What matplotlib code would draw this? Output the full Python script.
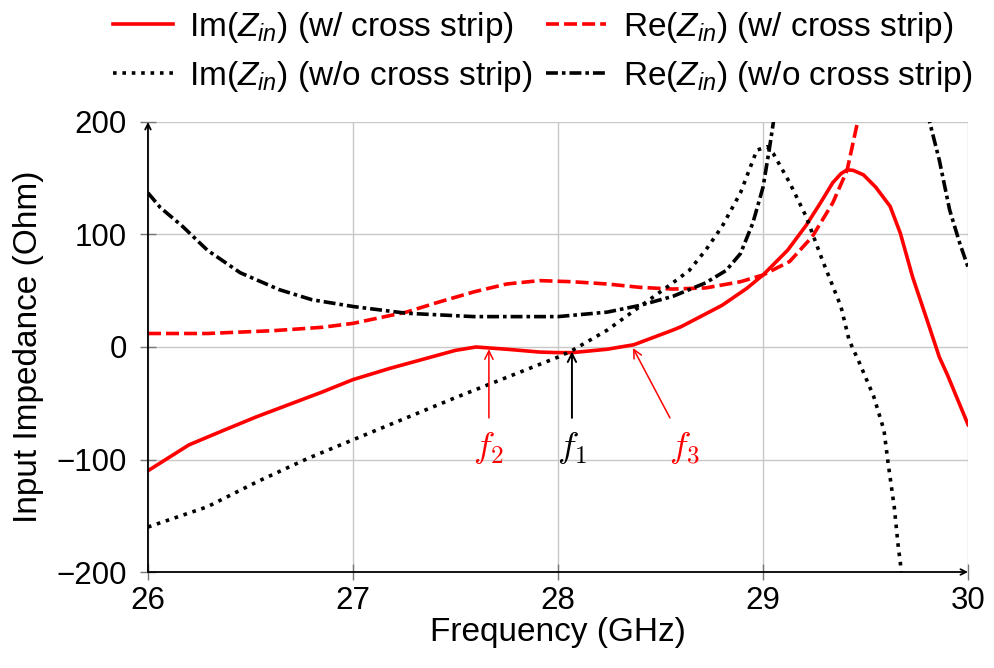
import numpy as np
import matplotlib.pyplot as plt

plt.rcParams['font.family'] = ['Liberation Sans', 'DejaVu Sans']
plt.rcParams['mathtext.fontset'] = 'custom'
plt.rcParams['mathtext.it'] = 'Liberation Sans:italic'
plt.rcParams['mathtext.rm'] = 'Liberation Sans'

# Im(Zin) with cross strip
f_im_w = [26.0, 26.2, 26.37, 26.53, 26.69, 26.85, 27.0, 27.18, 27.34, 27.5, 27.6,
          27.75, 27.91, 28.0, 28.07, 28.24, 28.37, 28.56, 28.6, 28.8, 28.92, 29.0,
          29.12, 29.21, 29.28, 29.34, 29.38, 29.41, 29.44, 29.49, 29.55, 29.62, 29.67,
          29.73, 29.8, 29.86, 29.9, 30.0]
im_w = [-110, -87, -74, -62, -51, -40, -29, -19, -11, -3, 0,
        -2, -4.5, -5, -5, -2, 2, 15, 18, 37, 52, 64,
        86, 108, 128, 146, 154, 157.5, 157, 153, 142, 125, 101,
        62, 24, -9, -25, -69]

# Re(Zin) with cross strip
f_re_w = [26.0, 26.29, 26.61, 26.85, 27.0, 27.13, 27.26, 27.42, 27.59, 27.75, 27.91,
          28.07, 28.24, 28.4, 28.56, 28.72, 28.89, 29.0, 29.13, 29.24, 29.34, 29.41,
          29.46, 29.5]
re_w = [12, 12, 14.5, 17.5, 21, 26, 31, 40, 49, 56, 59,
        58, 56, 53, 51.5, 52.5, 58, 64, 76, 98, 128, 157,
        199, 240]

# Im(Zin) without cross strip
f_im_wo = [26.0, 26.29, 26.53, 26.78, 27.02, 27.26, 27.5, 27.75, 28.0, 28.07, 28.24,
           28.4, 28.56, 28.64, 28.72, 28.8, 28.89, 28.97, 29.02, 29.05, 29.13,
           29.21, 29.29, 29.38, 29.42, 29.47, 29.54, 29.59, 29.61, 29.64, 29.66,
           29.67, 29.69]
im_wo = [-160, -142, -120, -99, -81, -63, -45, -27, -9, -3, 15,
         36, 57, 68, 86, 107, 137, 175, 178, 172, 146,
         116, 77, 36, 6, -14, -44, -74, -103, -142, -178,
         -192, -240]

# Re(Zin) without cross strip (off scale between ~29.05 and ~29.8)
f_re_wo = [26.0, 26.06, 26.17, 26.29, 26.45, 26.64, 26.8, 27.0, 27.26, 27.59, 28.0,
           28.24, 28.4, 28.56, 28.72, 28.82, 28.89, 28.95, 29.0, 29.03, 29.05,
           29.07, 29.4, 29.79, 29.81, 29.86, 29.91, 29.96, 30.0]
re_wo = [137, 124, 107, 86, 66, 51, 42, 36, 30, 27, 27,
         31, 37, 45, 57, 68, 83, 110, 142, 175, 199,
         240, np.nan, 230, 202, 166, 122, 92, 71]

fig = plt.figure(figsize=(9.95, 6.68), dpi=100)
ax = fig.add_axes([0.1487, 0.1437, 0.9729 - 0.1487, 0.8174 - 0.1437])

lw = 2.6
l1, = ax.plot(f_im_w, im_w, color='red', lw=lw)
l2, = ax.plot(f_re_w, re_w, color='red', lw=lw, linestyle=(0, (3.6, 1.4)))
l3, = ax.plot(f_im_wo, im_wo, color='black', lw=lw, linestyle=(0, (1, 1.6)))
l4, = ax.plot(f_re_wo, re_wo, color='black', lw=lw,
              linestyle=(0, (3.3, 1.1, 1, 1.1)))

ax.set_xlim(26, 30)
ax.set_ylim(-200, 200)
ax.set_xticks([26, 27, 28, 29, 30])
ax.set_yticks([-200, -100, 0, 100, 200])
ax.grid(True, color='#c8c8c8', lw=1.0)
ax.set_axisbelow(True)
for s in ax.spines.values():
    s.set_visible(False)
ax.tick_params(direction='inout', length=12, width=1, color='#777777',
               labelsize=22.5)
ax.tick_params(axis='x', pad=4)
ax.tick_params(axis='y', pad=9)

# axis lines with arrow heads
ax.annotate('', xy=(0, 1.0), xytext=(0, 0), xycoords='axes fraction',
            arrowprops=dict(arrowstyle='->', color='black', lw=1.3,
                            shrinkA=0, shrinkB=0))
ax.annotate('', xy=(1.0, 0), xytext=(0, 0), xycoords='axes fraction',
            arrowprops=dict(arrowstyle='->', color='black', lw=1.3,
                            shrinkA=0, shrinkB=0))

ax.set_xlabel('Frequency (GHz)', fontsize=24, labelpad=1)
ax.set_ylabel('Input Impedance (Ohm)', fontsize=24, labelpad=9)

# frequency markers
marks = [('$f_2$', 'red', (27.663, -2), (27.663, -63), (27.663, -90)),
         ('$f_1$', 'black', (28.068, -4), (28.068, -63), (28.068, -90)),
         ('$f_3$', 'red', (28.366, -1), (28.546, -63), (28.615, -90))]
for txt, c, tip, tail, pos in marks:
    ax.annotate('', xy=tip, xytext=tail,
                arrowprops=dict(arrowstyle='->,head_length=0.6,head_width=0.3',
                                color=c, lw=1.4 if c == 'black' else 1.1,
                                shrinkA=0, shrinkB=0))
    ax.text(pos[0], pos[1], txt, color=c, fontsize=26, ha='center', va='center',
            math_fontfamily='cm')

labels = [r'Im($Z_{in}$) (w/ cross strip)', r'Im($Z_{in}$) (w/o cross strip)',
          r'Re($Z_{in}$) (w/ cross strip)', r'Re($Z_{in}$) (w/o cross strip)']
fig.legend([l1, l3, l2, l4], labels, loc='upper center',
           bbox_to_anchor=(0.545, 1.03), ncol=2, frameon=False, fontsize=24,
           handlelength=1.8, handletextpad=0.5, columnspacing=0.4,
           labelspacing=0.42)

fig.savefig('out.png', dpi=100)
